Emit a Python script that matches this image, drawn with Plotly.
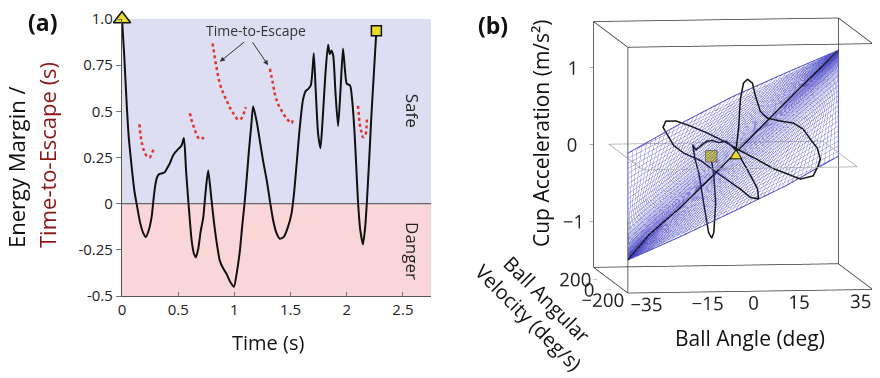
import numpy as np
import plotly.graph_objects as go

FONT = "Open Sans"

# ---------------- Panel (a) data ----------------
time_s = [0, 0.02, 0.04, 0.06, 0.086, 0.11, 0.13, 0.16, 0.19, 0.213, 0.24, 0.264, 0.28, 0.293,
          0.31, 0.33, 0.36, 0.38, 0.40, 0.427, 0.45, 0.47, 0.5, 0.53, 0.551, 0.57, 0.59, 0.62,
          0.64, 0.658, 0.68, 0.7, 0.723, 0.745, 0.767, 0.79, 0.81, 0.84, 0.871, 0.9, 0.93, 0.96,
          0.996, 1.02, 1.049, 1.07, 1.093, 1.113, 1.13, 1.15, 1.167, 1.2, 1.227, 1.256, 1.29,
          1.316, 1.345, 1.375, 1.404, 1.44, 1.475, 1.508, 1.53, 1.552, 1.58, 1.61, 1.635, 1.656,
          1.68, 1.695, 1.707, 1.725, 1.745, 1.766, 1.785, 1.81, 1.834, 1.849, 1.864, 1.88, 1.9,
          1.923, 1.945, 1.967, 1.985, 2.0, 2.03, 2.05, 2.07, 2.085, 2.1, 2.12, 2.145, 2.165,
          2.18, 2.2, 2.219, 2.24, 2.264]
energy_margin = [1.0, 0.8, 0.56, 0.36, 0.2, 0.07, 0.0, -0.1, -0.16, -0.18, -0.14, -0.07, 0.02, 0.087,
                 0.14, 0.16, 0.165, 0.17, 0.19, 0.22, 0.255, 0.275, 0.295, 0.315, 0.355, 0.18, 0.016, -0.2,
                 -0.27, -0.29, -0.24, -0.15, -0.075, 0.07, 0.18, 0.06, -0.055, -0.2, -0.31, -0.35, -0.38, -0.42,
                 -0.45, -0.38, -0.255, -0.12, 0.016, 0.16, 0.29, 0.42, 0.527, 0.44, 0.34, 0.23, 0.12,
                 0.016, -0.09, -0.16, -0.19, -0.18, -0.13, -0.055, 0.05, 0.2, 0.4, 0.56, 0.61, 0.62,
                 0.64, 0.72, 0.815, 0.6, 0.38, 0.30, 0.45, 0.7, 0.86, 0.81, 0.83, 0.8, 0.6,
                 0.42, 0.62, 0.84, 0.72, 0.65, 0.64, 0.55, 0.38, 0.2, 0.016, -0.14, -0.22, -0.12,
                 0.016, 0.24, 0.47, 0.69, 0.937]

tte1_t = [0.155, 0.165, 0.18, 0.2, 0.225, 0.245, 0.265, 0.285]
tte1_v = [0.43, 0.37, 0.32, 0.28, 0.255, 0.25, 0.27, 0.30]
tte2_t = [0.604, 0.625, 0.649, 0.67, 0.693, 0.72, 0.747]
tte2_v = [0.49, 0.44, 0.40, 0.365, 0.35, 0.355, 0.37]
tte3_t = [0.806, 0.84, 0.871, 0.9, 0.93, 0.96, 0.99, 1.034, 1.06, 1.078, 1.102]
tte3_v = [0.868, 0.74, 0.65, 0.60, 0.56, 0.52, 0.49, 0.455, 0.46, 0.48, 0.523]
tte4_t = [1.316, 1.34, 1.36, 1.38, 1.404, 1.435, 1.464, 1.49, 1.508, 1.523]
tte4_v = [0.73, 0.66, 0.595, 0.555, 0.52, 0.49, 0.46, 0.445, 0.436, 0.455]
tte5_t = [2.1, 2.108, 2.116, 2.13, 2.145, 2.16, 2.17, 2.18]
tte5_v = [0.53, 0.48, 0.43, 0.39, 0.36, 0.365, 0.38, 0.46]

x_ticks_a = [0, 0.5, 1, 1.5, 2, 2.5]
x_ticklabels_a = ["0", "0.5", "1", "1.5", "2", "2.5"]
y_ticks_a = [-0.5, -0.25, 0, 0.25, 0.5, 0.75, 1.0]
y_ticklabels_a = ["-0.5", "-0.25", "0", "0.25", "0.5", "0.75", "1.0"]

# ---------------- Panel (b) data ----------------
surf_s = [0, 0.25, 0.5, 0.75, 1.0]
surf_angle = [-40, -20, 0, 20, 40]
surf_vel = [-250, -125, 0, 125, 250]
surf_upper_acc = [0.22, 0.51, 0.77, 0.98, 1.18]
surf_lower_acc = [-1.17, -0.96, -0.73, -0.49, -0.2]

diag_s = [0, 0.1, 0.25, 0.5, 0.75, 1.0]
diag_acc = [-1.17, -0.88, -0.58, 0.0, 0.6, 1.18]

traj_angle = [0.8, 1.8, 2.4, 3.4, 4.7, 6.3, 7.3, 8.9, 11.2, 15.4, 19.7, 22.9, 25.2, 27.5, 28.5,
              27.8, 26.2, 22.0, 17.7, 13.2, 8.0, 2.4, -3.1, -8.6, -13.8, -18.7, -22.0, -22.9,
              -21.3, -19.4, -16.1, -10.6, -6.3, -1.8, 2.4, 5.7, 8.3, 8.0, 4.7, 2.4, 0.2, -2.4,
              -4.7, -6.7, -8.6, -10.6, -12.2, -13.2, -12.5, -11.2, -9.6, -8.0, -7.0, -6.3, -5.7,
              -6.3, -7.3]
traj_acc = [0.01, 0.36, 0.74, 0.94, 0.99, 0.94, 0.77, 0.57, 0.48, 0.44, 0.41, 0.33, 0.20, 0.08, -0.06,
            -0.15, -0.28, -0.32, -0.25, -0.18, -0.06, 0.06, 0.19, 0.30, 0.39, 0.46, 0.46, 0.38,
            0.27, 0.14, 0.04, -0.06, -0.19, -0.32, -0.44, -0.55, -0.57, -0.44, -0.19, -0.03, 0.10, 0.19,
            0.17, 0.20, 0.19, 0.13, 0.08, 0.15, -0.03, -0.22, -0.62, -1.00, -1.07, -1.00, -0.62,
            -0.25, 0.0]
traj_vel = [0.0] * len(traj_angle)

zero_plane_angle = [-35, 35]
zero_plane_vel = [-250, 250]

angle_range = [-40, 40]
vel_range = [-250, 250]
acc_range = [-1.6, 1.6]          # drawn bounding box
acc_axis_range = [-1.72, 1.6]    # axis range (extra room below for tick labels)
angle_ticks = [-35, -15, 0, 15, 35]
angle_ticklabels = ["\u221235", "\u221215", "0", "15", "35"]
vel_ticks = [-200, 0, 200]
vel_ticklabels = ["\u2212200", "0", "200"]
acc_ticks = [-1, 0, 1]
acc_ticklabels = ["\u22121", "0", "1"]

BLACK = "#111111"
YELLOW = "#e8dc2a"
RED = "#e0362a"
LAV = "rgb(222,222,243)"
PINK = "rgb(250,215,215)"

OFF = 8
def SX(px):
    return (px - OFF) / 880
def SY(py):
    return 1 - (py - OFF) / 378

fig = go.Figure()

# ---- panel (a) traces ----
fig.add_trace(go.Scatter(x=time_s, y=energy_margin, mode="lines",
                         line=dict(color=BLACK, width=2, shape="spline", smoothing=0.6),
                         hoverinfo="skip", showlegend=False))
for tt, vv in [(tte1_t, tte1_v), (tte2_t, tte2_v), (tte3_t, tte3_v), (tte4_t, tte4_v), (tte5_t, tte5_v)]:
    fig.add_trace(go.Scatter(x=tt, y=vv, mode="lines",
                             line=dict(color=RED, width=2.5, dash="dot", shape="spline"),
                             hoverinfo="skip", showlegend=False))
fig.add_trace(go.Scatter(x=[time_s[0]], y=[energy_margin[0]], mode="markers", cliponaxis=False,
                         marker=dict(symbol="triangle-up", size=15, color=YELLOW,
                                     line=dict(color=BLACK, width=1.5)),
                         hoverinfo="skip", showlegend=False))
fig.add_trace(go.Scatter(x=[time_s[-1]], y=[energy_margin[-1]], mode="markers", cliponaxis=False,
                         marker=dict(symbol="square", size=10, color=YELLOW,
                                     line=dict(color=BLACK, width=1.5)),
                         hoverinfo="skip", showlegend=False))

# ---- panel (b) traces ----
def along(s, arr):
    return np.interp(s, surf_s, arr)

mx, my, mz = [], [], []
p_ll = (surf_angle[0], surf_vel[0], surf_lower_acc[0])
p_ur = (surf_angle[-1], surf_vel[-1], surf_upper_acc[-1])
for s in np.linspace(0, 1, 46):
    for p, arr in [(p_ll, surf_upper_acc), (p_ur, surf_lower_acc)]:
        mx += [p[0], along(s, surf_angle), None]
        my += [p[1], along(s, surf_vel), None]
        mz += [p[2], along(s, arr), None]
for f in np.linspace(0, 1, 22):
    zr = surf_upper_acc[-1] + f * (surf_lower_acc[-1] - surf_upper_acc[-1])
    mx += [p_ll[0], surf_angle[-1], None]; my += [p_ll[1], surf_vel[-1], None]; mz += [p_ll[2], zr, None]
    zl = surf_lower_acc[0] + f * (surf_upper_acc[0] - surf_lower_acc[0])
    mx += [p_ur[0], surf_angle[0], None]; my += [p_ur[1], surf_vel[0], None]; mz += [p_ur[2], zl, None]
fig.add_trace(go.Scatter3d(x=mx, y=my, z=mz, mode="lines", opacity=0.6,
                           line=dict(color="rgb(65,65,195)", width=1),
                           hoverinfo="skip", showlegend=False))
ox = surf_angle + surf_angle[::-1] + [surf_angle[0]]
oy = surf_vel + surf_vel[::-1] + [surf_vel[0]]
oz = surf_upper_acc + surf_lower_acc[::-1] + [surf_upper_acc[0]]
fig.add_trace(go.Scatter3d(x=ox, y=oy, z=oz, mode="lines",
                           line=dict(color="rgb(80,80,200)", width=2),
                           hoverinfo="skip", showlegend=False))

zpx = [zero_plane_angle[0], zero_plane_angle[1], zero_plane_angle[1], zero_plane_angle[0], zero_plane_angle[0]]
zpy = [zero_plane_vel[0], zero_plane_vel[0], zero_plane_vel[1], zero_plane_vel[1], zero_plane_vel[0]]
fig.add_trace(go.Scatter3d(x=zpx, y=zpy, z=[0] * 5, mode="lines",
                           line=dict(color="rgb(170,170,170)", width=1.5),
                           hoverinfo="skip", showlegend=False))

bx, by, bz = [], [], []
for a in angle_range:
    for v in vel_range:
        bx += [a, a, None]; by += [v, v, None]; bz += [acc_range[0], acc_range[1], None]
for a in angle_range:
    for c in acc_range:
        bx += [a, a, None]; by += [vel_range[0], vel_range[1], None]; bz += [c, c, None]
for v in vel_range:
    for c in acc_range:
        bx += [angle_range[0], angle_range[1], None]; by += [v, v, None]; bz += [c, c, None]
fig.add_trace(go.Scatter3d(x=bx, y=by, z=bz, mode="lines",
                           line=dict(color="rgb(50,50,50)", width=1.5),
                           hoverinfo="skip", showlegend=False))

fig.add_trace(go.Scatter3d(x=list(along(diag_s, surf_angle)), y=list(along(diag_s, surf_vel)), z=diag_acc,
                           mode="lines", line=dict(color=BLACK, width=3),
                           hoverinfo="skip", showlegend=False))
fig.add_trace(go.Scatter3d(x=traj_angle, y=traj_vel, z=traj_acc, mode="lines",
                           line=dict(color=BLACK, width=3),
                           hoverinfo="skip", showlegend=False))
a0, v0, c0 = traj_angle[0], traj_vel[0] - 5, traj_acc[0]
tri_x = [a0 - 1.9, a0 + 1.9, a0]
tri_z = [c0 - 0.05, c0 - 0.05, c0 + 0.07]
fig.add_trace(go.Mesh3d(x=tri_x, y=[v0] * 3, z=tri_z, i=[0], j=[1], k=[2], color=YELLOW,
                        flatshading=True, lighting=dict(ambient=1, diffuse=0, specular=0, fresnel=0),
                        hoverinfo="skip", showscale=False))
fig.add_trace(go.Scatter3d(x=tri_x + [tri_x[0]], y=[v0 - 1] * 4, z=tri_z + [tri_z[0]], mode="lines",
                           line=dict(color=BLACK, width=2), hoverinfo="skip", showlegend=False))
fig.add_trace(go.Scatter3d(x=[traj_angle[-1]], y=[traj_vel[-1] - 5], z=[traj_acc[-1]], mode="markers",
                           marker=dict(symbol="square", size=6, color=YELLOW,
                                       line=dict(color=BLACK, width=1.5)),
                           hoverinfo="skip", showlegend=False))

ax3 = dict(showgrid=False, showbackground=False, zeroline=False, showline=False,
           showspikes=False, ticks="outside", ticklen=4, tickcolor="#555", tickangle=0,
           tickfont=dict(family=FONT, size=15, color="#222"), title=dict(text=""))

# scene domain (taller so tick labels below the box are not clipped)
SCENE_Y = [0.10, 1.0]
K = (SCENE_Y[1] - SCENE_Y[0]) / (1.0 - 0.214)
AR = 1.665 / K
ARZ = AR * (acc_axis_range[1] - acc_axis_range[0]) / (acc_range[1] - acc_range[0])
CSH = 0.26 / K
CZ = -0.1057
fig.update_layout(
    template="none",
    width=880, height=378, margin=dict(l=0, r=0, t=0, b=0, pad=0, autoexpand=False),
    paper_bgcolor="white", plot_bgcolor="white", showlegend=False,
    font=dict(family=FONT, color="#222"),
    xaxis=dict(domain=[SX(122), SX(431)], range=[0, 2.75], tickvals=x_ticks_a, ticktext=x_ticklabels_a,
               showgrid=False, zeroline=False, showline=True, linecolor="#555", linewidth=1.2,
               ticks="inside", ticklen=4, tickcolor="#777", tickfont=dict(size=15, color="#222"),
               fixedrange=True, automargin=False),
    yaxis=dict(domain=[SY(296), SY(19)], range=[-0.5, 1.0], tickvals=y_ticks_a, ticktext=y_ticklabels_a,
               showgrid=False, zeroline=False, showline=True, linecolor="#555", linewidth=1.2,
               ticks="outside", ticklen=5, tickcolor="#777", tickfont=dict(size=15, color="#222"),
               fixedrange=True, automargin=False),
    shapes=[
        dict(type="rect", xref="x", yref="y", x0=0, x1=2.75, y0=0, y1=1.0, fillcolor=LAV,
             line=dict(width=0), layer="below"),
        dict(type="rect", xref="x", yref="y", x0=0, x1=2.75, y0=-0.5, y1=0, fillcolor=PINK,
             line=dict(width=0), layer="below"),
        dict(type="line", xref="x", yref="y", x0=0, x1=2.75, y0=0, y1=0,
             line=dict(color="#666670", width=1.2), layer="below"),
    ],
    scene=dict(
        domain=dict(x=[0.56, 1.0], y=SCENE_Y),
        xaxis=dict(ax3, range=angle_range, tickvals=angle_ticks, ticktext=angle_ticklabels),
        yaxis=dict(ax3, range=vel_range, tickvals=vel_ticks, ticktext=vel_ticklabels),
        zaxis=dict(ax3, range=acc_axis_range, tickvals=acc_ticks, ticktext=acc_ticklabels),
        aspectmode="manual", aspectratio=dict(x=AR, y=AR, z=ARZ),
        camera=dict(projection=dict(type="orthographic"),
                    eye=dict(x=-0.138 * 1.8 - 0.99 * CSH, y=-0.985 * 1.8 + 0.14 * CSH, z=0.105 * 1.8 + CZ),
                    up=dict(x=0, y=0, z=1), center=dict(x=-0.99 * CSH, y=0.14 * CSH, z=CZ)),
        bgcolor="white",
    ),
)

def pann(text, px, py, size, color="#111", angle=0):
    return dict(text=text, x=SX(px), y=SY(py), xref="paper", yref="paper", showarrow=False,
                xanchor="center", yanchor="middle", textangle=angle,
                font=dict(family=FONT, size=size, color=color))

ann = [
    pann("<b>(a)</b>", 42, 22, 23),
    pann("<b>(b)</b>", 493, 25, 23),
    pann("Energy Margin /", 16, 167, 22, angle=-90),
    pann("Time-to-Escape (s)", 47, 155, 22, color="rgb(140,22,22)", angle=-90),
    pann("Time (s)", 268, 342, 20),
    pann("Cup Acceleration (m/s\u00b2)", 541, 133, 21, angle=-90),
    pann("Ball Angle (deg)", 750, 338, 21),
    pann("Ball Angular<br>Velocity (deg/s)", 538, 308, 20, angle=45),
    dict(text="Safe", x=2.587, y=0.505, xref="x", yref="y", showarrow=False, textangle=90,
         xanchor="center", yanchor="middle", font=dict(size=17, color="#222")),
    dict(text="Danger", x=2.587, y=-0.255, xref="x", yref="y", showarrow=False, textangle=90,
         xanchor="center", yanchor="middle", font=dict(size=17, color="#222")),
    dict(text="Time-to-Escape", x=1.19, y=0.935, xref="x", yref="y", showarrow=False,
         xanchor="center", yanchor="middle", font=dict(size=14, color="#333")),
    dict(text="", x=0.871, y=0.768, ax=1.10, ay=0.882, xref="x", yref="y", axref="x", ayref="y",
         showarrow=True, arrowhead=2, arrowsize=1, arrowwidth=1, arrowcolor="#333"),
    dict(text="", x=1.30, y=0.75, ax=1.153, ay=0.882, xref="x", yref="y", axref="x", ayref="y",
         showarrow=True, arrowhead=2, arrowsize=1, arrowwidth=1, arrowcolor="#333"),
]
fig.update_layout(annotations=ann)

fig.write_html("out.html")
